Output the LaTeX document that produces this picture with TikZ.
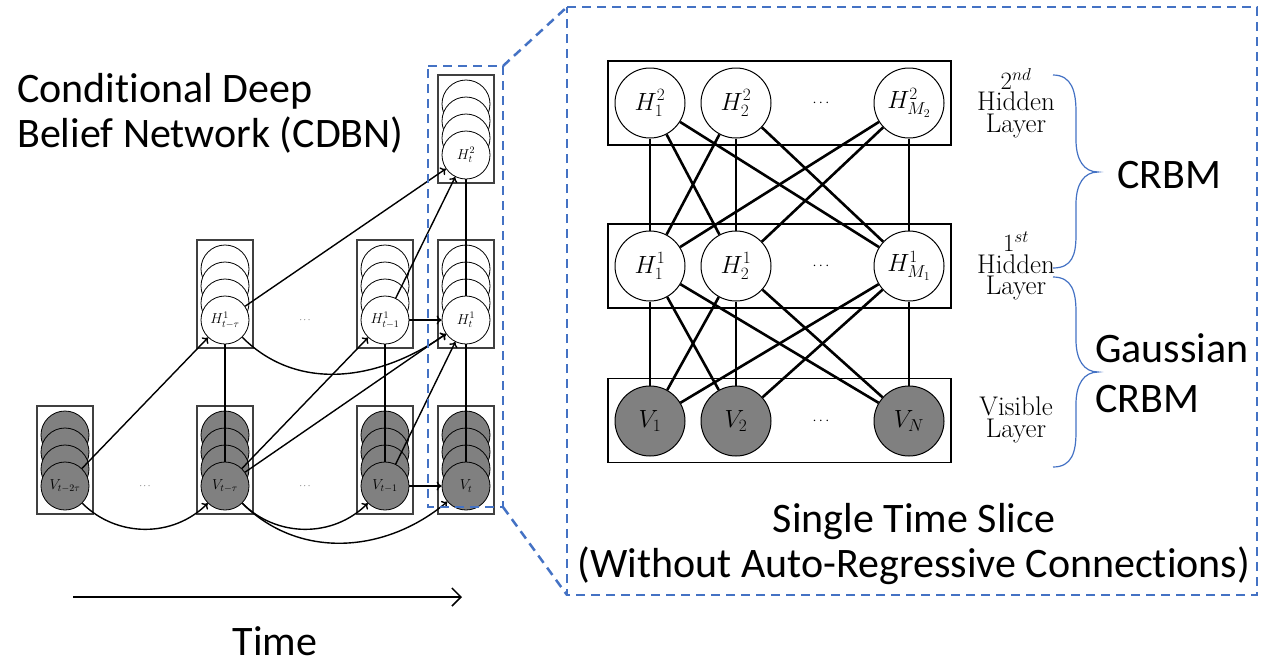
\documentclass[tikz,border=0pt]{standalone}
\usepackage{fontspec}
\newfontfamily\calib[Ligatures=NoCommon]{Carlito}
\usetikzlibrary{positioning}
\usetikzlibrary{arrows.meta}
\definecolor{sliceblue}{RGB}{68,114,196}
\tikzset{
x=1pt, y=1pt, % one unit is one pixel of the layout
hid/.style={circle, draw, fill=white, line width=0.8pt, minimum size=48pt, inner sep=0pt, font=\fontsize{14}{14}\selectfont},
vis/.style={hid, fill=gray},
layerbox/.style={draw=black!75, line width=1.2pt, minimum width=56pt, minimum height=108pt, inner sep=0pt},
bighid/.style={circle, draw, fill=white, line width=1pt, minimum size=70pt, inner sep=0pt, font=\fontsize{24}{24}\selectfont},
bigvis/.style={bighid, fill=gray},
rowbox/.style={draw, line width=1.2pt, minimum width=343pt, minimum height=84pt, inner sep=0pt},
arr/.style={-{Computer Modern Rightarrow[length=5pt,width=9pt]}, line width=1.4pt},
link/.style={line width=1.6pt},
wlink/.style={line width=2.6pt},
slice/.style={draw=sliceblue, line width=2.5pt, dash pattern=on 9pt off 6pt},
layertext/.style={font=\fontsize{27}{21.5}\selectfont, align=center},
bigtext/.style={font=\calib\fontsize{42}{45}\selectfont, inner sep=0pt},
}

\begin{document}
\begin{tikzpicture}
\useasboundingbox (0,0) rectangle (1274,-665);

% CDBN: boxes and stacked units behind each unit
\foreach \nm/\cx/\cy/\st in {V2tau/65/486/vis, Vtau/225/486/vis, H1tau/225/320/hid, Vtm/385/486/vis, H1tm/385/320/hid, Vt/466/486/vis, H1t/466/320/hid, H2t/466/155/hid} {
  \node[layerbox] (\nm-box) at (\cx,-\cy+26) {};
  \foreach \k in {3,2,1}
    \node[\st] (\nm-s\k) at (\cx,-\cy+17*\k) {};
}
\node[vis] (V2tau) at (65,-486) {$V_{t-2\tau}$};
\node[vis] (Vtau) at (225,-486) {$V_{t-\tau}$};
\node[hid] (H1tau) at (225,-320) {$H^1_{t-\tau}$};
\node[vis] (Vtm) at (385,-486) {$V_{t-1}$};
\node[hid] (H1tm) at (385,-320) {$H^1_{t-1}$};
\node[vis] (Vt) at (466,-486) {$V_t$};
\node[hid] (H1t) at (466,-320) {$H^1_t$};
\node[hid] (H2t) at (466,-155) {$H^2_t$};
\node[font=\fontsize{9}{9}\selectfont] (dotsA) at (145,-486) {$\cdots$};
\node[font=\fontsize{9}{9}\selectfont] (dotsB) at (305,-486) {$\cdots$};
\node[font=\fontsize{9}{9}\selectfont] (dotsC) at (305,-320) {$\cdots$};

\draw[arr] (V2tau) -- (H1tau);
\draw[arr] (V2tau) to[out=-45,in=-135] (Vtau);
\draw[link] (Vtau) -- (H1tau);
\draw[arr] (H1tau) -- (H2t);
\draw[arr] (H1tau) to[out=-45,in=-145] (H1t);
\draw[arr] (Vtau) -- (H1tm);
\draw[arr] (Vtau) -- (H1t);
\draw[arr] (Vtau) to[out=-45,in=-135] (Vtm);
\draw[arr] (Vtau) to[out=-45,in=-140] (Vt);
\draw[link] (Vtm) -- (H1tm);
\draw[arr] (Vtm) -- (Vt);
\draw[arr] (Vtm) -- (H1t);
\draw[arr] (H1tm) -- (H1t);
\draw[arr] (H1tm) -- (H2t);
\draw[link] (Vt) -- (H1t);
\draw[link] (H1t) -- (H2t);

\node[bigtext, anchor=base west] (title1) at (17,-102) {Conditional Deep};
\node[bigtext, anchor=base west] (title2) at (17,-147) {Belief Network (CDBN)};

% time axis
\coordinate (t0) at (73,-597);
\coordinate (t1) at (462,-597);
\draw[-{Straight Barb[length=9pt,width=18pt]}, line width=1.5pt] (t0) -- (t1);
\node[bigtext, anchor=base] (timelab) at (275,-655) {Time};

% zoom from the current slice to the single slice
\coordinate (sA) at (428,-66);
\coordinate (sB) at (503,-66);
\coordinate (sC) at (503,-507);
\coordinate (sD) at (428,-507);
\coordinate (bA) at (567,-7);
\coordinate (bB) at (1257,-7);
\coordinate (bC) at (1257,-595);
\coordinate (bD) at (567,-595);
\draw[slice] (sA) -- (sB) -- (sC) -- (sD) -- cycle;
\draw[slice] (bA) -- (bB) -- (bC) -- (bD) -- cycle;
\draw[slice] (sB) -- (bA);
\draw[slice] (sC) -- (bD);

% single time slice
\node[rowbox] (row2) at (779.5,-103) {};
\node[rowbox] (row1) at (779.5,-266) {};
\node[rowbox] (row0) at (779.5,-420.5) {};
\node[bighid] (H21) at (650,-103) {$H^2_1$};
\node[bighid] (H22) at (736,-103) {$H^2_2$};
\node[bighid] (H2M) at (909,-103) {$H^2_{M_2}$};
\node[bighid] (H11) at (650,-266) {$H^1_1$};
\node[bighid] (H12) at (736,-266) {$H^1_2$};
\node[bighid] (H1M) at (909,-266) {$H^1_{M_1}$};
\node[bigvis] (V1) at (650,-421) {$V_1$};
\node[bigvis] (V2) at (736,-421) {$V_2$};
\node[bigvis] (VN) at (909,-421) {$V_N$};
\node[font=\fontsize{14}{14}\selectfont] (dots2) at (821,-103) {$\cdots$};
\node[font=\fontsize{14}{14}\selectfont] (dots1) at (821,-266) {$\cdots$};
\node[font=\fontsize{14}{14}\selectfont] (dots0) at (821,-421) {$\cdots$};
\foreach \a in {H21,H22,H2M}
  \foreach \b in {H11,H12,H1M}
    \draw[wlink] (\a) -- (\b);
\foreach \a in {H11,H12,H1M}
  \foreach \b in {V1,V2,VN}
    \draw[wlink] (\a) -- (\b);

\node[layertext] (lay2) at (1016,-103) {$2^{nd}$\\Hidden\\Layer};
\node[layertext] (lay1) at (1016,-266) {$1^{st}$\\Hidden\\Layer};
\node[layertext] (lay0) at (1016,-420) {Visible\\Layer};

% braces
\draw[sliceblue, line width=1.2pt] (1053,-75) .. controls (1072,-75) and (1076,-92) .. (1076,-112) -- (1076,-140) .. controls (1076,-160) and (1084,-172) .. (1098,-172) .. controls (1084,-172) and (1076,-184) .. (1076,-204) -- (1076,-235) .. controls (1076,-255) and (1072,-268) .. (1053,-268);
\draw[sliceblue, line width=1.2pt] (1053,-277) .. controls (1072,-277) and (1076,-292) .. (1076,-312) -- (1076,-340) .. controls (1076,-360) and (1084,-372) .. (1098,-372) .. controls (1084,-372) and (1076,-384) .. (1076,-404) -- (1076,-432) .. controls (1076,-452) and (1072,-467) .. (1053,-467);

\node[bigtext, anchor=base west] (crbm) at (1117,-188) {CRBM};
\node[bigtext, anchor=base west] (gauss1) at (1095,-362) {Gaussian};
\node[bigtext, anchor=base west] (gauss2) at (1095,-412) {CRBM};

\node[bigtext, anchor=base] (slice1) at (914,-532) {Single Time Slice};
\node[bigtext, anchor=base] (slice2) at (914,-577) {(Without Auto-Regressive Connections)};
\end{tikzpicture}
\end{document}
